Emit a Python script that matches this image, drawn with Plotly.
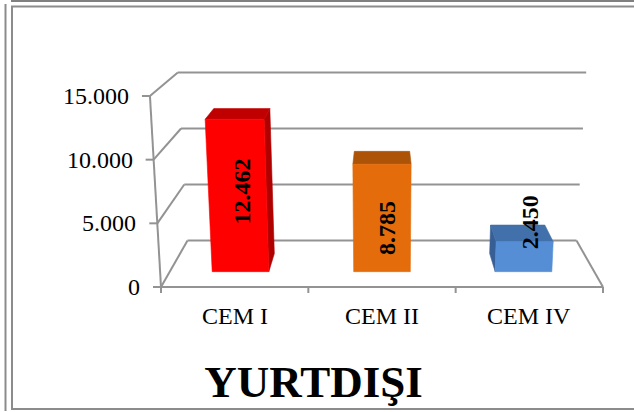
import plotly.graph_objects as go

# ---------------- data ----------------
categories = ["CEM I", "CEM II", "CEM IV"]
values = [12462, 8785, 2450]
value_labels = ["12.462", "8.785", "2.450"]
y_ticks = [0, 5000, 10000, 15000]
y_tick_labels = ["0", "5.000", "10.000", "15.000"]
title_text = "YURTDIŞI"

# ---------------- styling ----------------
front_colors = ["#FF0000", "#E46C0A", "#558ED5"]
top_colors = ["#C00000", "#AD5308", "#4270AA"]
side_colors = ["#B00000", "#B85A0A", "#385F95"]
label_shift = [(4, 3.5), (5, -10), (5.5, 34)]  # px offsets of value labels
GRID = "#939393"
FONT = "Liberation Serif"

W, H = 634, 412
# calibration of the front plane (pixels)
X_LEFT_PX, X_STEP_PX = 161.0, 147.33      # pixel of x=-0.5 ; pixels per category
Y0_PX, Y_PER_V = 287.0, 191.0 / 15000     # pixel of value 0 ; pixels per unit
xr = [-0.5 - X_LEFT_PX / X_STEP_PX, -0.5 + (W - X_LEFT_PX) / X_STEP_PX]
yr = [(Y0_PX - H) / Y_PER_V, Y0_PX / Y_PER_V]

# simple perspective: vanishing point, vertical spread, depth shrink
VX, VV = 1.0, (Y0_PX + 100) / Y_PER_V
SPREAD = 0.05 / 15000
SHRINK = 0.12
BAR_D0, BAR_D1, BAR_HW = 0.33, 0.72, 0.2
N = len(categories)
XMIN, XMAX = -0.5, N - 0.5
VMAX = max(y_ticks)


def proj(x, v, d):
    k = 1 - SHRINK * d
    xf = VX + (x - VX) * (1 + SPREAD * v)
    return VX + (xf - VX) * k, VV + (v - VV) * k


fig = go.Figure()


def seg(p, q, width=2, color=GRID):
    fig.add_trace(go.Scatter(x=[p[0], q[0]], y=[p[1], q[1]], mode="lines",
                             line=dict(color=color, width=width),
                             hoverinfo="skip", showlegend=False))


def poly(pts, color):
    xs = [p[0] for p in pts] + [pts[0][0]]
    ys = [p[1] for p in pts] + [pts[0][1]]
    fig.add_trace(go.Scatter(x=xs, y=ys, mode="lines", fill="toself",
                             fillcolor=color, line=dict(color=color, width=0.6),
                             hoverinfo="skip", showlegend=False))


# back wall + side wall grid lines
for t in y_ticks:
    seg(proj(XMIN, t, 1), proj(XMAX, t, 1))
    seg(proj(XMIN, t, 0), proj(XMIN, t, 1))
# floor
seg(proj(XMIN, 0, 0), proj(XMAX, 0, 0))
seg(proj(XMAX, 0, 0), proj(XMAX, 0, 1))
# front value axis
seg(proj(XMIN, 0, 0), proj(XMIN, VMAX, 0))
tick_len_x = 8 / X_STEP_PX
tick_len_v = 6 / Y_PER_V
for t in y_ticks:
    p = proj(XMIN, t, 0)
    seg(p, (p[0] - tick_len_x, p[1]))
for i in range(N + 1):
    p = proj(XMIN + i, 0, 0)
    seg(p, (p[0], p[1] - tick_len_v))

# bars
annotations = []
for i, v in enumerate(values):
    l, r = i - BAR_HW, i + BAR_HW
    left_side = [proj(l, 0, BAR_D0), proj(l, 0, BAR_D1), proj(l, v, BAR_D1), proj(l, v, BAR_D0)]
    right_side = [proj(r, 0, BAR_D0), proj(r, 0, BAR_D1), proj(r, v, BAR_D1), proj(r, v, BAR_D0)]
    top = [proj(l, v, BAR_D0), proj(r, v, BAR_D0), proj(r, v, BAR_D1), proj(l, v, BAR_D1)]
    front = [proj(l, 0, BAR_D0), proj(r, 0, BAR_D0), proj(r, v, BAR_D0), proj(l, v, BAR_D0)]
    if i < VX:
        poly(right_side, side_colors[i])
    elif i > VX:
        poly(left_side, side_colors[i])
    poly(top, top_colors[i])
    poly(front, front_colors[i])
    cx, cy = proj(i, v / 2, BAR_D0)
    annotations.append(dict(x=cx, y=cy, xref="x", yref="y", text=value_labels[i],
                            showarrow=False, textangle=-90,
                            xshift=label_shift[i][0], yshift=label_shift[i][1],
                            font=dict(family=FONT, size=24, color="black", weight="bold")))

# value tick labels
for t, lab in zip(y_ticks, y_tick_labels):
    p = proj(XMIN, t, 0)
    annotations.append(dict(x=p[0] - tick_len_x, y=p[1], xref="x", yref="y", text=lab,
                            showarrow=False, xanchor="right", yanchor="middle", xshift=-11,
                            font=dict(family=FONT, size=24, color="black")))
# category labels
for i, c in enumerate(categories):
    p = proj(i, 0, 0)
    annotations.append(dict(x=p[0], y=p[1], xref="x", yref="y", text=c,
                            showarrow=False, xanchor="center", yanchor="middle", yshift=-29,
                            font=dict(family=FONT, size=24, color="black")))


def px(x):
    return x / W


def py(y):
    return 1 - y / H


frame = "#8c8c8c"
shapes = [
    dict(type="line", xref="paper", yref="paper", x0=px(11), x1=px(640), y0=py(1), y1=py(1),
         line=dict(color="#808080", width=2)),
    dict(type="line", xref="paper", yref="paper", x0=px(5.5), x1=px(5.5), y0=py(4), y1=py(411),
         line=dict(color=frame, width=2)),
    dict(type="rect", xref="paper", yref="paper", x0=px(12), x1=px(645), y0=py(6.5), y1=py(409),
         line=dict(color=frame, width=2)),
]

fig.update_layout(
    width=W, height=H,
    margin=dict(l=0, r=0, t=0, b=0),
    paper_bgcolor="white", plot_bgcolor="white",
    xaxis=dict(range=xr, visible=False, fixedrange=True),
    yaxis=dict(range=yr, visible=False, fixedrange=True),
    showlegend=False, hovermode=False,
    annotations=annotations, shapes=shapes,
    title=dict(text=title_text, x=313.5 / W, xanchor="center", y=1 - 381 / H, yanchor="middle",
               yref="container", xref="container",
               font=dict(family=FONT, size=45, color="black", weight="bold")),
)

fig.write_html(
    "out.html",
    config={"displayModeBar": False, "staticPlot": True},
    post_script="document.body.style.margin='0';document.body.style.overflow='hidden';",
)
